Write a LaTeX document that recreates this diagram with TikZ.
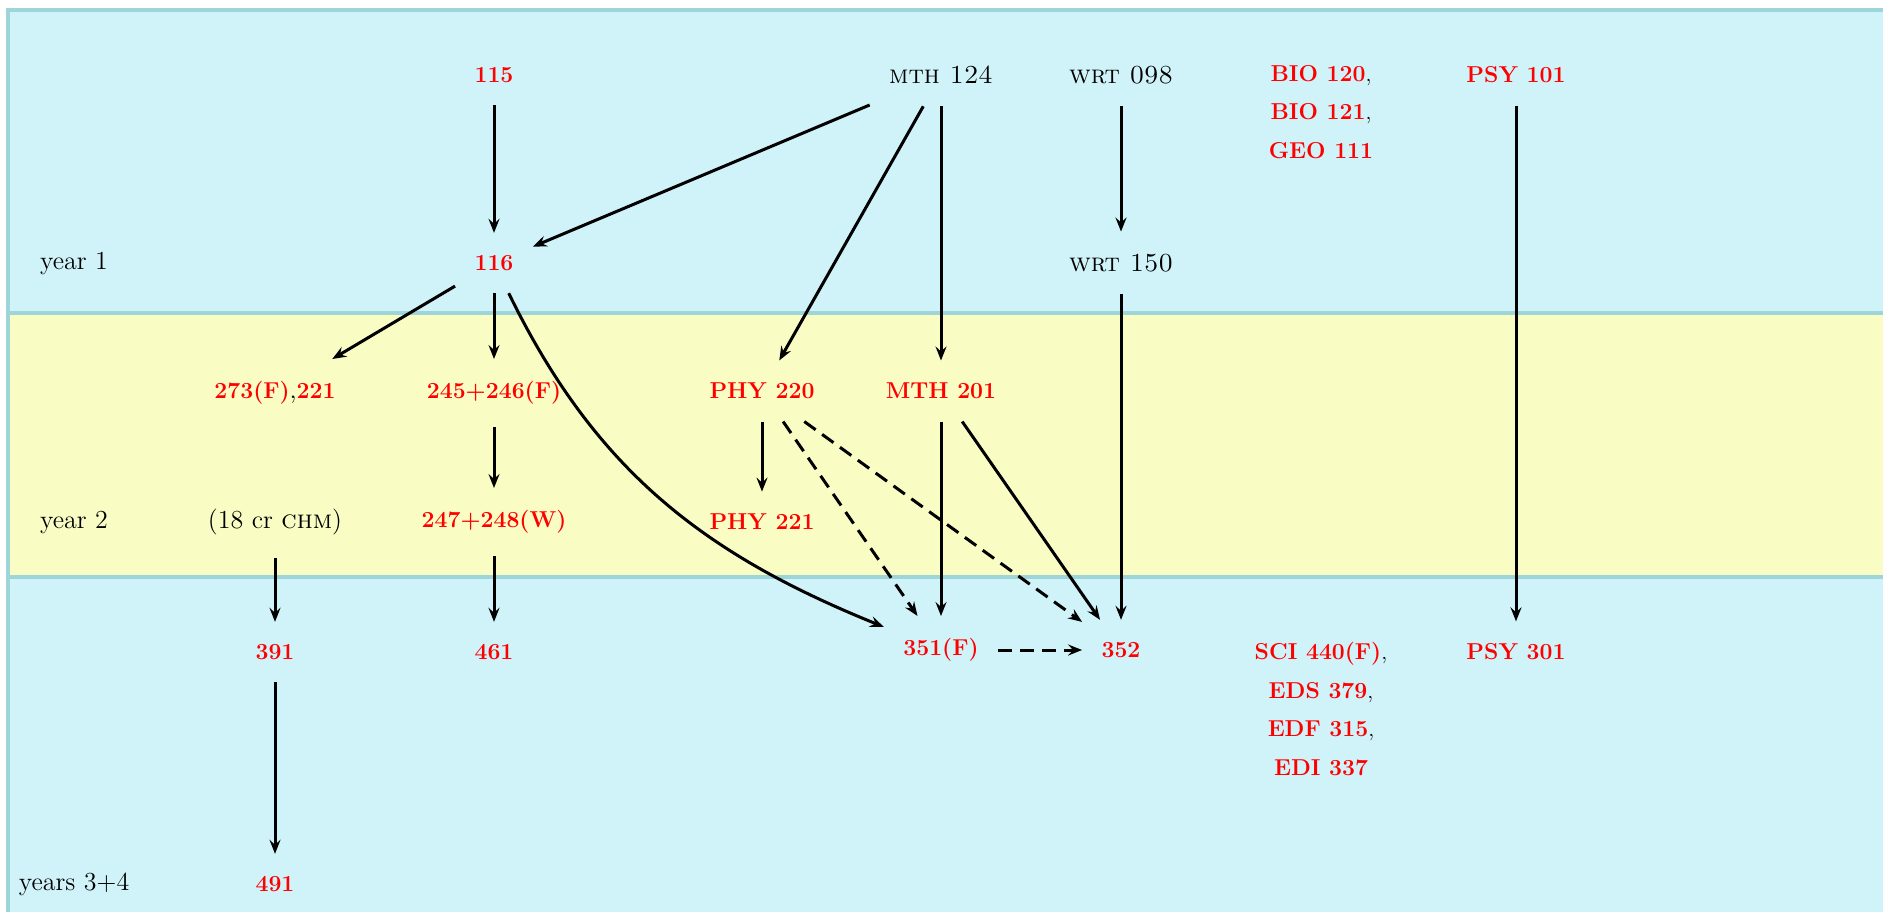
\documentclass[tikz,border=0pt]{standalone}
\usepackage{fontspec}
\usetikzlibrary{positioning, arrows.meta}

\definecolor{bandblue}{RGB}{208,242,249}
\definecolor{bandyellow}{RGB}{249,253,195}
\definecolor{bandline}{RGB}{157,213,216}
\newcommand{\crs}[1]{\textcolor{red}{\fontsize{11.5}{13.5}\selectfont\bfseries #1}}

\begin{document}
\begin{tikzpicture}[x=0.5pt, y=0.5pt, >={Stealth[length=7pt, width=5.5pt, inset=2.5pt]},
    line width=1.5pt, font=\fontsize{13}{15.6}\selectfont,
    course/.style={inner xsep=9pt, inner ysep=10.5pt},
    stack/.style={align=center, font=\fontsize{11}{19.25}\selectfont},
    band/.style={draw=bandline, line width=1.8pt},
    opt/.style={dash pattern=on 7pt off 4pt}]

\useasboundingbox (0,0) rectangle (1883,-911);
\clip (0,0) rectangle (1883,-911);

% Year bands
\path[band, fill=bandblue]   (8,-10)  rectangle (1900,-313);
\path[band, fill=bandyellow] (8,-313) rectangle (1900,-577);
\path[band, fill=bandblue]   (8,-577) rectangle (1900,-930);

% Year labels
\node (yr1) at (74,-263) {year 1};
\node (yr2) at (74,-522) {year 2};
\node (yr34) at (74,-884) {years 3+4};

% Courses
\node[course] (c115) at (494,-75) {\crs{115}};
\node[course] (m124) at (941,-75) {\textsc{mth 124}};
\node[course] (w098) at (1121,-75) {\textsc{wrt 098}};
\node[stack] (bio) at (1321,-112) {\crs{BIO 120},\\ \crs{BIO 121},\\ \crs{GEO 111}};
\node[course] (p101) at (1516,-75) {\crs{PSY 101}};

\node[course] (c116) at (494,-263) {\crs{116}};
\node[course] (w150) at (1121,-263) {\textsc{wrt 150}};

\node[course] (c273) at (275,-393) {\crs{273(F)},\crs{221}};
\node[course] (c245) at (494,-393) {\crs{245+246(F)}};
\node[course] (p220) at (762,-391) {\crs{PHY 220}};
\node[course] (m201) at (941,-391) {\crs{MTH 201}};

\node[course] (chm) at (275,-522) {(18 cr \textsc{chm})};
\node[course] (c247) at (494,-522) {\crs{247+248(W)}};
\node[course] (p221) at (762,-522) {\crs{PHY 221}};

\node[course] (c391) at (275,-652) {\crs{391}};
\node[course] (c461) at (494,-652) {\crs{461}};
\node[course] (c351) at (941,-650) {\crs{351(F)}};
\node[course] (c352) at (1121,-650) {\crs{352}};
\node[stack] (sci) at (1321,-709) {\crs{SCI 440(F)},\\ \crs{EDS 379},\\ \crs{EDF 315},\\ \crs{EDI 337}};
\node[course] (p301) at (1516,-652) {\crs{PSY 301}};

\node[course] (c491) at (275,-884) {\crs{491}};

% Prerequisites
\path[->]
    (c115) edge (c116)
    (m124) edge (c116)
           edge (p220)
           edge (m201)
    (w098) edge (w150)
    (w150) edge (c352)
    (p101) edge (p301)
    (c116) edge (c273)
           edge (c245)
           edge[out=-64, in=158] (c351)
    (c245) edge (c247)
    (p220) edge (p221)
           edge[opt] (c351)
           edge[opt] (c352)
    (m201) edge (c351)
           edge (c352)
    (chm)  edge (c391)
    (c247) edge (c461)
    (c391) edge (c491)
    (c351) edge[opt] (c352);

\end{tikzpicture}
\end{document}
